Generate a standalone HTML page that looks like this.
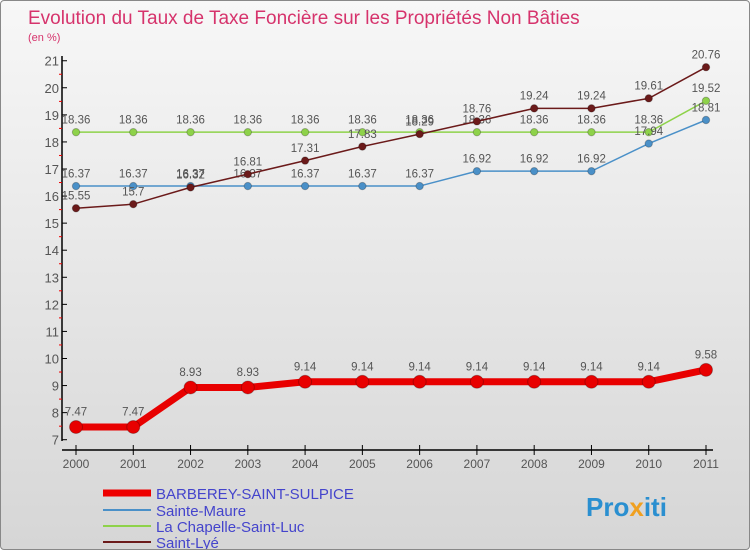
<!DOCTYPE html>
<html><head><meta charset="utf-8"><style>
body{margin:0}
#c{width:750px;height:550px;position:relative;overflow:hidden;font-family:"Liberation Sans",sans-serif;background:linear-gradient(#f7f7f7,#d6d6d6);box-sizing:border-box;border:1px solid #888;border-radius:4px}
</style></head><body>
<div id="c">
<svg id="s" width="750" height="550" xmlns="http://www.w3.org/2000/svg">
<text x="27" y="23" font-size="19" fill="#d6336c">Evolution du Taux de Taxe Foncière sur les Propriétés Non Bâties</text>
<text x="27" y="40" font-size="11" fill="#d6336c">(en %)</text>
<g id="axes"></g><g id="series"></g>
<g>
<line x1="102" y1="492" x2="150" y2="492" stroke="#e00" stroke-width="7"/>
<text x="155" y="498" font-size="15" fill="#4444cc">BARBEREY-SAINT-SULPICE</text>
<line x1="102" y1="509" x2="150" y2="509" stroke="#4a90c8" stroke-width="2"/>
<text x="155" y="515" font-size="15" fill="#4444cc">Sainte-Maure</text>
<line x1="102" y1="525" x2="150" y2="525" stroke="#8ed24a" stroke-width="2"/>
<text x="155" y="531" font-size="15" fill="#4444cc">La Chapelle-Saint-Luc</text>
<line x1="102" y1="541" x2="150" y2="541" stroke="#6b1a1a" stroke-width="2"/>
<text x="155" y="547" font-size="15" fill="#4444cc">Saint-Lyé</text>
</g>
<text x="585" y="515" font-size="26" font-weight="bold" fill="#2a8fd0">Pro<tspan fill="#f0a020">x</tspan>iti</text>
</svg>
</div>
<script>
const years=[2000,2001,2002,2003,2004,2005,2006,2007,2008,2009,2010,2011];
const yTicks=[7,8,9,10,11,12,13,14,15,16,17,18,19,20,21];
const barberey=[7.47,7.47,8.93,8.93,9.14,9.14,9.14,9.14,9.14,9.14,9.14,9.58];
const sainteMaure=[16.37,16.37,16.37,16.37,16.37,16.37,16.37,16.92,16.92,16.92,17.94,18.81];
const laChapelle=[18.36,18.36,18.36,18.36,18.36,18.36,18.36,18.36,18.36,18.36,18.36,19.52];
const saintLye=[15.55,15.7,16.32,16.81,17.31,17.83,18.29,18.76,19.24,19.24,19.61,20.76];
const NS="http://www.w3.org/2000/svg";
const X=i=>75+i*(630/11);
const Y=v=>438.7-(v-7)*27.07;
function mk(t,a,p){const e=document.createElementNS(NS,t);for(const k in a)e.setAttribute(k,a[k]);p.appendChild(e);return e;}
const ax=document.getElementById('axes');
const yAxis=mk('line',{x1:61,y1:55,x2:61,y2:440,stroke:'#000','stroke-width':1.5},ax);


yTicks.forEach(v=>{
 mk('line',{x1:61,y1:Y(v),x2:66,y2:Y(v),stroke:'#000'},ax);
 if(v<21)mk('line',{x1:58,y1:Y(v+0.5),x2:61,y2:Y(v+0.5),stroke:'#e00'},ax);
 const t=mk('text',{x:58,y:Y(v)+5,'font-size':13,fill:'#555','text-anchor':'end'},ax);
 
 
 t.textContent=v;
});
const xAxis=mk('line',{x1:61,y1:449,x2:712,y2:449,stroke:'#000','stroke-width':1.5},ax);


years.forEach((y,i)=>{
 mk('line',{x1:X(i),y1:444,x2:X(i),y2:454,stroke:'#000'},ax);
 const t=mk('text',{x:X(i),y:467,'font-size':12,fill:'#555','text-anchor':'middle'},ax);
 
 
 t.textContent=y;
});
const sg=document.getElementById('series');
function draw(vals,color,w,r,name){
 const g=mk('g',{},sg);
 
 
 mk('polyline',{points:vals.map((v,i)=>X(i)+','+Y(v)).join(' '),fill:'none',stroke:color,'stroke-width':w},g);
 vals.forEach((v,i)=>{
  const c=mk('circle',{cx:X(i),cy:Y(v),r:r,fill:color,stroke:'rgba(0,0,0,0.25)'},g);
  
  
  const t=mk('text',{x:X(i),y:Y(v)-r-5,'font-size':11.5,fill:'#555','text-anchor':'middle'},g);
  
  
  t.textContent=v;
 });
}
draw(laChapelle,'#8ed24a',1.5,3.7,'series-la-chapelle');
draw(sainteMaure,'#4a90c8',1.5,3.7,'series-sainte-maure');
draw(saintLye,'#6b1a1a',1.5,3.7,'series-saint-lye');
draw(barberey,'#e80000',7,6.5,'series-barberey');
</script>
</body></html>
